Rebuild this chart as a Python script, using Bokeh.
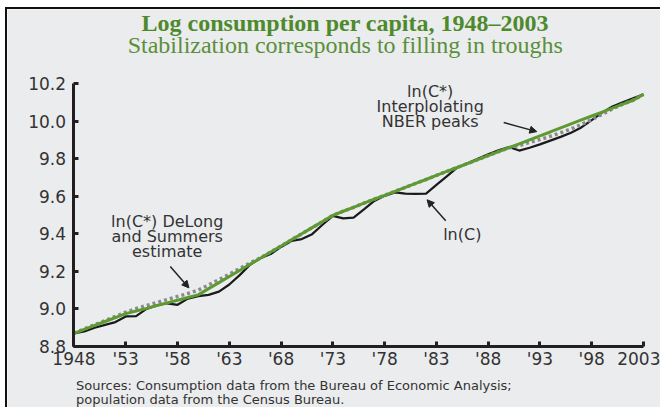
from bokeh.plotting import figure
from bokeh.models import Label, Arrow, NormalHead, FixedTicker, NumeralTickFormatter, ColumnDataSource
from bokeh.embed import file_html
from bokeh.resources import INLINE

years = list(range(1948, 2004))

ln_c = [8.870, 8.880, 8.900, 8.915, 8.930, 8.960, 8.962, 9.000, 9.018, 9.030,
        9.022, 9.055, 9.068, 9.075, 9.092, 9.130, 9.180, 9.235, 9.270, 9.292,
        9.330, 9.362, 9.372, 9.398, 9.448, 9.495, 9.482, 9.486, 9.530, 9.575,
        9.602, 9.620, 9.614, 9.613, 9.614, 9.660, 9.706, 9.752, 9.776, 9.800,
        9.823, 9.845, 9.862, 9.843, 9.858, 9.876, 9.896, 9.916, 9.938, 9.966,
        10.005, 10.045, 10.078, 10.100, 10.122, 10.142]

ln_c_star = [8.870, 8.891, 8.912, 8.933, 8.954, 8.975, 8.989, 9.003, 9.018, 9.032,
             9.046, 9.061, 9.075, 9.108, 9.140, 9.173, 9.205, 9.238, 9.270, 9.303,
             9.335, 9.368, 9.400, 9.433, 9.465, 9.498, 9.520, 9.541, 9.563, 9.584,
             9.605, 9.626, 9.647, 9.668, 9.689, 9.711, 9.732, 9.753, 9.774, 9.795,
             9.816, 9.837, 9.858, 9.879, 9.900, 9.921, 9.942, 9.964, 9.985, 10.006,
             10.027, 10.048, 10.069, 10.090, 10.111, 10.142]

ln_c_dotted = [8.870, 8.894, 8.916, 8.938, 8.960, 8.983, 9.002, 9.018, 9.034, 9.050,
               9.066, 9.082, 9.100, 9.128, 9.156, 9.185, 9.215, 9.245, 9.272, 9.303,
               9.335, 9.368, 9.400, 9.433, 9.465, 9.498, 9.520, 9.541, 9.563, 9.584,
               9.605, 9.626, 9.647, 9.668, 9.689, 9.711, 9.732, 9.753, 9.774, 9.795,
               9.816, 9.837, 9.858, 9.870, 9.886, 9.902, 9.919, 9.938, 9.958, 9.982,
               10.008, 10.036, 10.065, 10.090, 10.111, 10.142]

y_ticks = [8.8, 9.0, 9.2, 9.4, 9.6, 9.8, 10.0, 10.2]
x_ticks = [1948, 1953, 1958, 1963, 1968, 1973, 1978, 1983, 1988, 1993, 1998, 2003]
x_tick_labels = ["1948", "'53", "'58", "'63", "'68", "'73", "'78", "'83", "'88", "'93", "'98", "2003"]

BG = "#EBECEE"
TXT = "#333333"
GREEN = "#5E9A32"

src = ColumnDataSource(dict(year=years, c=ln_c, cstar=ln_c_star, cdot=ln_c_dotted))

# The frame fills the whole canvas; both axes are pinned to the data corner (1948, 8.8)
p = figure(width=655, height=400, output_backend="svg", toolbar_location=None,
           x_range=(1941.578, 2004.835), y_range=(8.4646, 10.594),
           background_fill_color=BG, border_fill_color=BG,
           min_border_left=0, min_border_right=0, min_border_top=0, min_border_bottom=0)
p.margin = (7, 0, 0, 5)
p.styles = {"border-left": "2px solid #111", "border-top": "2px solid #111"}
p.outline_line_color = None
p.grid.visible = False

for ax in (p.xaxis[0], p.yaxis[0]):
    ax.axis_line_width = 3
    ax.axis_line_color = "#231F20"
    ax.major_tick_line_width = 3
    ax.major_tick_line_color = "#231F20"
    ax.major_tick_in = 5
    ax.major_tick_out = 0
    ax.minor_tick_line_color = None
    ax.major_label_text_font = "DejaVu Sans"
    ax.major_label_text_font_size = "17px"
    ax.major_label_text_color = TXT

p.yaxis.ticker = FixedTicker(ticks=y_ticks)
p.yaxis.formatter = NumeralTickFormatter(format="0.0")
p.yaxis.major_label_standoff = 8
p.yaxis.bounds = (8.8, 10.2)
p.yaxis.fixed_location = 1948
p.xaxis.ticker = FixedTicker(ticks=x_ticks)
p.xaxis.major_label_overrides = {t: l for t, l in zip(x_ticks, x_tick_labels)}
p.xaxis.major_label_standoff = 3
p.xaxis.bounds = (1948, 2003)
p.xaxis.fixed_location = 8.8

p.line("year", "c", source=src, line_color="#1A1A1A", line_width=2.2)
p.line("year", "cdot", source=src, line_color="#8A8A8A", line_width=3.5, line_dash="3 3")
p.line("year", "cstar", source=src, line_color=GREEN, line_width=3)

def lab(x, y, t, **kw):
    opts = dict(text_font="DejaVu Sans", text_font_size="16px", text_color=TXT,
                text_align="center", text_baseline="middle")
    opts.update(kw)
    p.add_layout(Label(x=x, y=y, text=t, **opts))

# Titles
lab(1974.2, 10.524, "Log consumption per capita, 1948\u20132003", text_font="Liberation Serif",
    text_font_size="24px", text_font_style="bold", text_color="#4E8A2C")
lab(1974.2, 10.407, "Stabilization corresponds to filling in troughs", text_font="Liberation Serif",
    text_font_size="24px", text_color="#5A8F3A")

# Annotations
for yy, t in zip([10.157, 10.077, 9.997], ["ln(C*)", "Interplolating", "NBER peaks"]):
    lab(1982.4, yy, t)
for yy, t in zip([9.465, 9.385, 9.306], ["ln(C*) DeLong", "and Summers", "estimate"]):
    lab(1957.0, yy, t)
lab(1985.5, 9.396, "ln(C)")

arrows = [((1989.5, 9.992), (1992.7, 9.944)),
          ((1957.3, 9.226), (1959.1, 9.112)),
          ((1983.9, 9.470), (1982.1, 9.581))]
for (x0, y0), (x1, y1) in arrows:
    p.add_layout(Arrow(x_start=x0, y_start=y0, x_end=x1, y_end=y1, line_width=1.5,
                       line_color="#222222",
                       end=NormalHead(size=7, fill_color="#222222", line_color="#222222")))

# Sources
lab(1948.2, 8.592, "Sources: Consumption data from the Bureau of Economic Analysis;",
    text_font_size="13px", text_align="left")
lab(1948.2, 8.518, "population data from the Census Bureau.",
    text_font_size="13px", text_align="left")

open("out.html", "w").write(file_html(p, INLINE))
